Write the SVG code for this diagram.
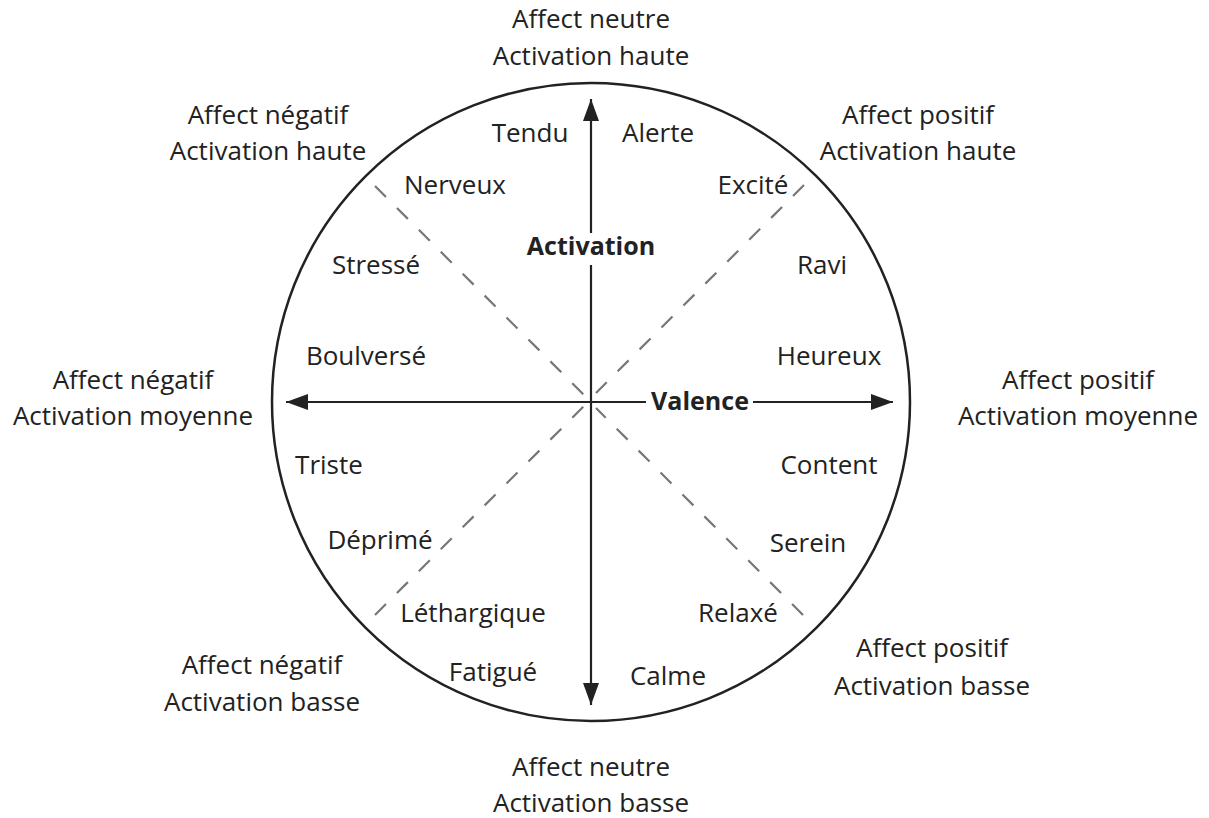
<svg xmlns="http://www.w3.org/2000/svg" width="1209" height="818" viewBox="0 0 1209 818">
<defs>
<style>
.t{font-family:"Open Sans","Noto Sans",sans-serif;font-size:26px;fill:#222;text-anchor:middle}
.b{font-family:"Open Sans","Noto Sans",sans-serif;font-size:25px;font-weight:bold;fill:#222;text-anchor:middle}
.ax{stroke:#222;stroke-width:2.2;fill:none}
.dash{stroke:#777;stroke-width:2.2;stroke-dasharray:15.5 15.5;fill:none}
</style>
<marker id="ah" markerUnits="userSpaceOnUse" markerWidth="24" markerHeight="18" refX="22" refY="8" orient="auto">
<path d="M0,0 L22,8 L0,16 Z" fill="#222"/>
</marker>
</defs>
<rect width="1209" height="818" fill="#fff"/>
<g id="circle">
<circle cx="591" cy="402" r="319" fill="none" stroke="#222" stroke-width="2.5"/>
</g>
<g id="connectors">
<path class="dash" d="M375,186 L584,395"/>
<path class="dash" d="M804,185 L596,393"/>
<path class="dash" d="M375,615 L584,406"/>
<path class="dash" d="M803,615 L596,408"/>
<path class="ax" d="M591,233 L591,99" marker-end="url(#ah)"/>
<path class="ax" d="M591,265 L591,705" marker-end="url(#ah)"/>
<path class="ax" d="M646,402 L286,402" marker-end="url(#ah)"/>
<path class="ax" d="M753,402 L893,402" marker-end="url(#ah)"/>
</g>
<g id="axis-labels">
<text id="activation" class="b" x="591" y="255">Activation</text>
<text id="valence" class="b" x="700" y="410">Valence</text>
</g>
<g id="outer-labels">
<g id="n"><text class="t" x="591" y="28">Affect neutre</text><text class="t" x="591" y="65">Activation haute</text></g>
<g id="nw"><text class="t" x="268" y="124">Affect négatif</text><text class="t" x="268" y="160">Activation haute</text></g>
<g id="ne"><text class="t" x="918" y="124">Affect positif</text><text class="t" x="918" y="160">Activation haute</text></g>
<g id="w"><text class="t" x="133" y="389">Affect négatif</text><text class="t" x="133" y="425">Activation moyenne</text></g>
<g id="e"><text class="t" x="1078" y="389">Affect positif</text><text class="t" x="1078" y="425">Activation moyenne</text></g>
<g id="sw"><text class="t" x="262" y="674">Affect négatif</text><text class="t" x="262" y="711">Activation basse</text></g>
<g id="se"><text class="t" x="932" y="657">Affect positif</text><text class="t" x="932" y="695">Activation basse</text></g>
<g id="s"><text class="t" x="591" y="776">Affect neutre</text><text class="t" x="591" y="812">Activation basse</text></g>
</g>
<g id="emotions">
<text id="tendu" class="t" x="530" y="142">Tendu</text>
<text id="alerte" class="t" x="658" y="142">Alerte</text>
<text id="nerveux" class="t" x="455" y="194">Nerveux</text>
<text id="excite" class="t" x="753" y="194">Excité</text>
<text id="stresse" class="t" x="376" y="274">Stressé</text>
<text id="ravi" class="t" x="822" y="274">Ravi</text>
<text id="boulverse" class="t" x="366" y="365">Boulversé</text>
<text id="heureux" class="t" x="829" y="365">Heureux</text>
<text id="triste" class="t" x="329" y="474">Triste</text>
<text id="content" class="t" x="829" y="474">Content</text>
<text id="deprime" class="t" x="380" y="549">Déprimé</text>
<text id="serein" class="t" x="808" y="552">Serein</text>
<text id="lethargique" class="t" x="473" y="622">Léthargique</text>
<text id="relaxe" class="t" x="738" y="622">Relaxé</text>
<text id="fatigue" class="t" x="493" y="681">Fatigué</text>
<text id="calme" class="t" x="668" y="685">Calme</text>
</g>
</svg>
